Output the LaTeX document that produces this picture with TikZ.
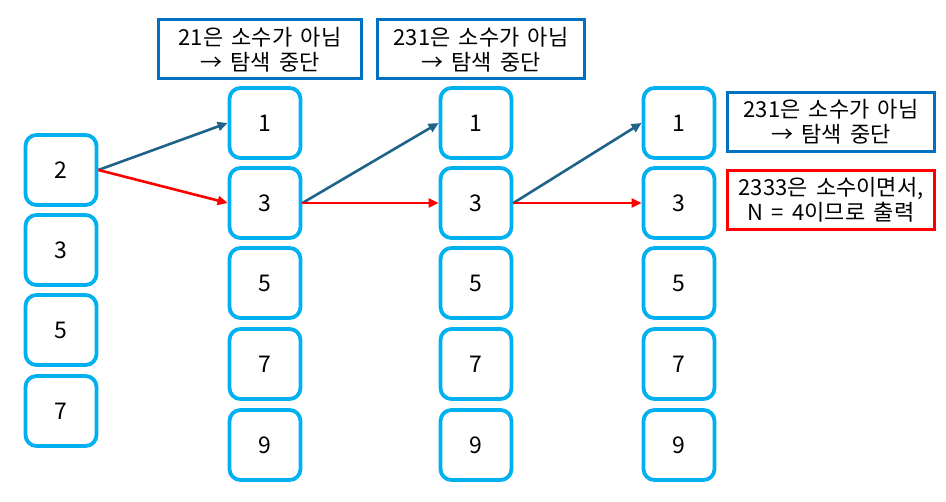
\documentclass[tikz,border=0pt]{standalone}
\usepackage{fontspec}
\setmainfont[WordSpace=1.7]{Noto Sans CJK KR}
\usetikzlibrary{arrows.meta}
\definecolor{boxcyan}{RGB}{0,176,240}
\definecolor{lblblue}{RGB}{0,112,192}
\definecolor{arrblue}{RGB}{31,99,138}
\tikzset{
  numbox/.style={draw=boxcyan, line width=3.8pt, rounded corners=11pt, minimum width=71pt, minimum height=70pt, inner sep=0pt, font=\fontsize{23}{26}\selectfont},
  lblbox/.style={draw=lblblue, line width=3pt, minimum width=203pt, minimum height=59pt, inner sep=0pt, align=center, font=\fontsize{22}{25}\selectfont},
  redbox/.style={lblbox, draw=red},
  bluearr/.style={draw=arrblue, line width=2.6pt, -{Triangle[length=10pt,width=9pt]}},
  redarr/.style={draw=red, line width=2.6pt, -{Triangle[length=10pt,width=9pt]}},
}
\begin{document}
\begin{tikzpicture}[x=1pt,y=-1pt]
\useasboundingbox (0,0) rectangle (946,502);
% column 0
\node[numbox] (a2) at (61,170) {2};
\node[numbox] (a3) at (61,250) {3};
\node[numbox] (a5) at (61,330) {5};
\node[numbox] (a7) at (61,411) {7};
% column 1
\node[numbox] (b1) at (265,123) {1};
\node[numbox] (b3) at (265,203) {3};
\node[numbox] (b5) at (265,283) {5};
\node[numbox] (b7) at (265,364) {7};
\node[numbox] (b9) at (265,445) {9};
% column 2
\node[numbox] (c1) at (476,123) {1};
\node[numbox] (c3) at (476,203) {3};
\node[numbox] (c5) at (476,283) {5};
\node[numbox] (c7) at (476,364) {7};
\node[numbox] (c9) at (476,445) {9};
% column 3
\node[numbox] (d1) at (679,123) {1};
\node[numbox] (d3) at (679,203) {3};
\node[numbox] (d5) at (679,283) {5};
\node[numbox] (d7) at (679,364) {7};
\node[numbox] (d9) at (679,445) {9};
% labels
\node[lblbox] (l1) at (260,49.5) {21은 소수가 아님\\→ 탐색 중단};
\node[lblbox, minimum width=207pt] (l2) at (481,49.5) {231은 소수가 아님\\→ 탐색 중단};
\node[lblbox, minimum width=207pt] (l3) at (831,122) {231은 소수가 아님\\→ 탐색 중단};
\node[redbox, minimum width=207pt] (l4) at (831,200) {2333은 소수이면서,\\N = 4이므로 출력};
% arrows
\draw[bluearr] (a2.east) -- (b1.west);
\draw[redarr] (a2.east) -- (b3.west);
\draw[bluearr] (b3.east) -- (c1.west);
\draw[redarr] (b3.east) -- (c3.west);
\draw[bluearr] (c3.east) -- (d1.west);
\draw[redarr] (c3.east) -- (d3.west);
\end{tikzpicture}
\end{document}
